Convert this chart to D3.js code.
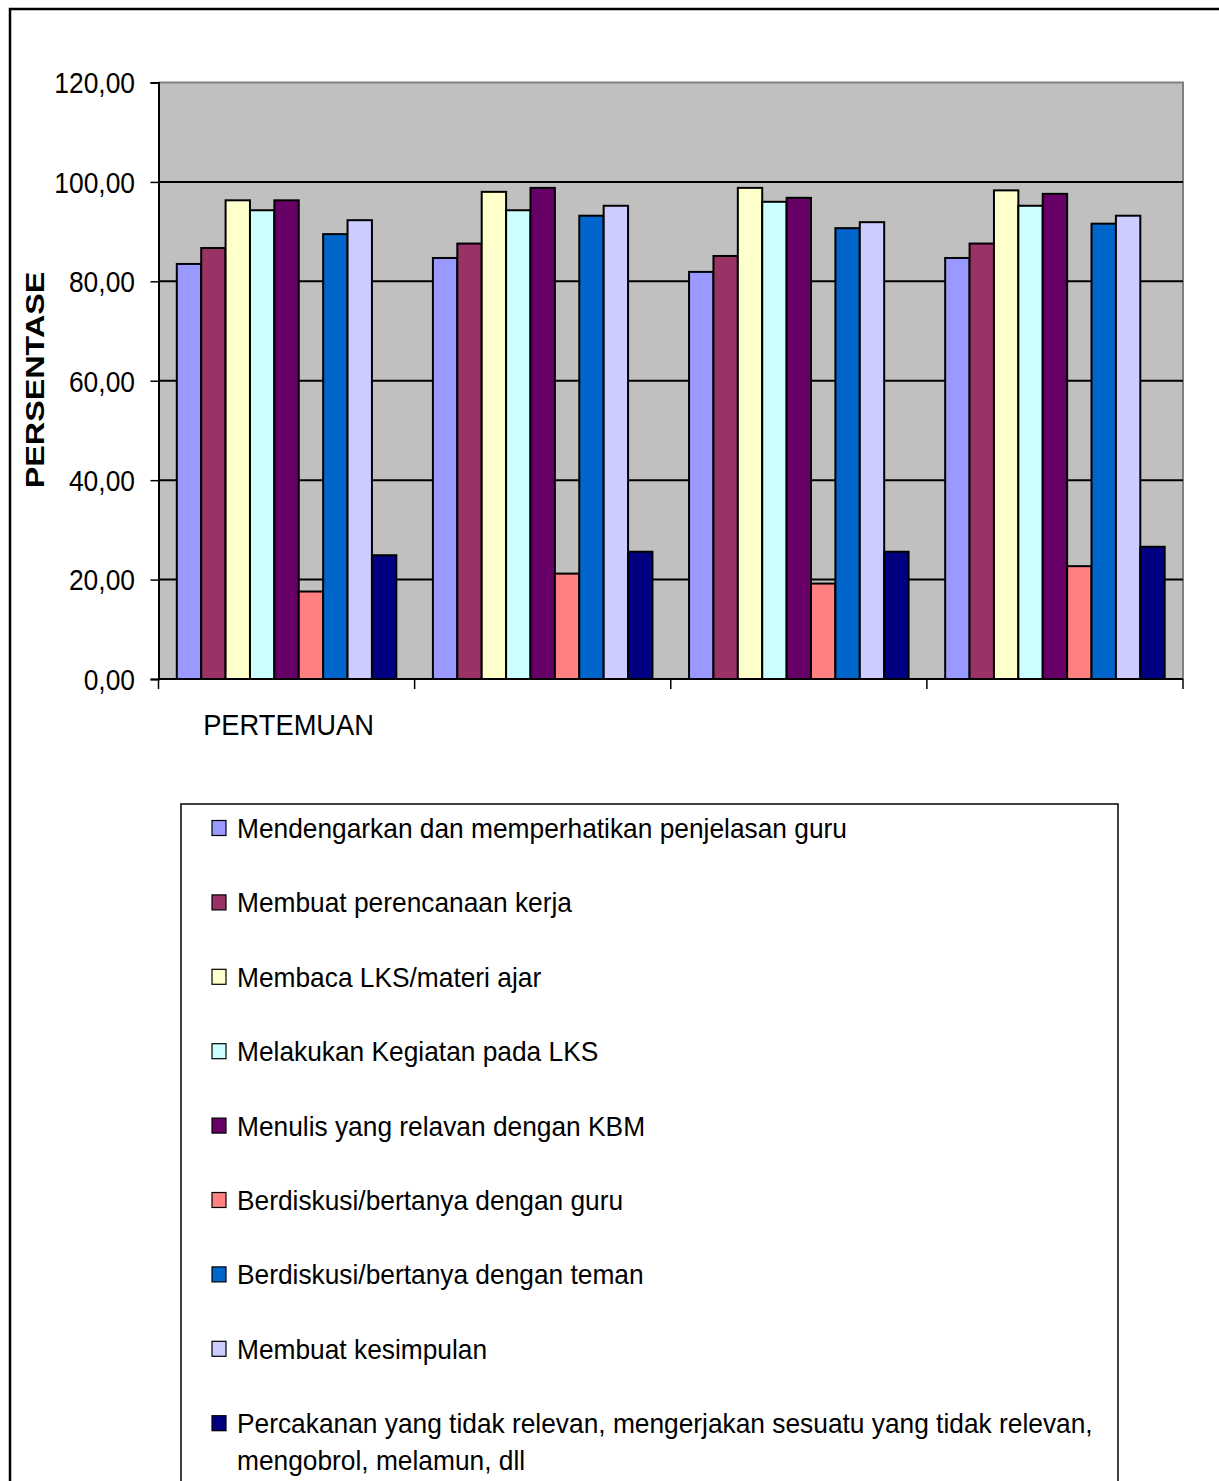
<!DOCTYPE html>
<html>
<head>
<meta charset="utf-8">
<script src="https://cdn.jsdelivr.net/npm/d3@7"></script>
<style>
html,body{margin:0;padding:0;background:#fff;}
svg{display:block;}
text{font-family:"Liberation Sans",Arial,sans-serif;fill:#000;}
</style>
</head>
<body>
<svg id="chart" width="1219" height="1481"></svg>
<script>
// ---- data ----
const meetings = ["1", "2", "3", "4"];
const categoryLabels = ["PERTEMUAN", "", "", ""];
const seriesNames = [
  "Mendengarkan dan memperhatikan penjelasan guru",
  "Membuat perencanaan kerja",
  "Membaca LKS/materi ajar",
  "Melakukan Kegiatan pada LKS",
  "Menulis yang relavan dengan KBM",
  "Berdiskusi/bertanya dengan guru",
  "Berdiskusi/bertanya dengan teman",
  "Membuat kesimpulan",
  "Percakanan yang tidak relevan, mengerjakan sesuatu yang tidak relevan, mengobrol, melamun, dll"
];
const legendLines = [
  ["Mendengarkan dan memperhatikan penjelasan guru"],
  ["Membuat perencanaan kerja"],
  ["Membaca LKS/materi ajar"],
  ["Melakukan Kegiatan pada LKS"],
  ["Menulis yang relavan dengan KBM"],
  ["Berdiskusi/bertanya dengan guru"],
  ["Berdiskusi/bertanya dengan teman"],
  ["Membuat kesimpulan"],
  ["Percakanan yang tidak relevan, mengerjakan sesuatu yang tidak relevan,", "mengobrol, melamun, dll"]
];
const s1 = [83.5, 84.7, 81.9, 84.7];
const s2 = [86.7, 87.6, 85.1, 87.6];
const s3 = [96.3, 98.0, 98.8, 98.3];
const s4 = [94.3, 94.3, 96.0, 95.2];
const s5 = [96.3, 98.8, 96.8, 97.6];
const s6 = [17.6, 21.2, 19.2, 22.7];
const s7 = [89.5, 93.2, 90.7, 91.6];
const s8 = [92.3, 95.2, 91.9, 93.2];
const s9 = [24.9, 25.6, 25.6, 26.6];
const seriesValues = [s1, s2, s3, s4, s5, s6, s7, s8, s9];
const yTicks = [0, 20, 40, 60, 80, 100, 120];
const yTickLabels = ["0,00", "20,00", "40,00", "60,00", "80,00", "100,00", "120,00"];
const yTitle = "PERSENTASE";

// ---- styles ----
const palette = ["#9999FF", "#993366", "#FFFFCC", "#CCFFFF", "#660066", "#FF8080", "#0066CC", "#CCCCFF", "#000080"];

const svg = d3.select("#chart");
const P = {left: 158.5, right: 1183, top: 82.5, bottom: 679};

// outer chart border
svg.append("rect").attr("x", 10).attr("y", 9).attr("width", 1400).attr("height", 1700)
  .attr("fill", "none").attr("stroke", "#000").attr("stroke-width", 2.5);

const x0 = d3.scaleBand().domain(meetings).range([P.left, P.right]).padding(0);
const x1 = d3.scaleBand().domain(d3.range(seriesNames.length)).range([0, x0.bandwidth()])
  .paddingInner(0).paddingOuter(0.75);
const y = d3.scaleLinear().domain([0, 120]).range([P.bottom, P.top]);

// plot area
svg.append("rect").attr("x", P.left).attr("y", P.top).attr("width", P.right - P.left)
  .attr("height", P.bottom - P.top).attr("fill", "#C0C0C0");
svg.append("path").attr("d", `M${P.left},${P.top}H${P.right}V${P.bottom}`)
  .attr("fill", "none").attr("stroke", "#808080").attr("stroke-width", 2);

// gridlines
svg.append("g").selectAll("line").data(yTicks.filter(t => t > 0 && t < 120)).join("line")
  .attr("x1", P.left).attr("x2", P.right).attr("y1", d => y(d)).attr("y2", d => y(d))
  .attr("stroke", "#000").attr("stroke-width", 2);

// bars
const groups = svg.append("g").selectAll("g").data(meetings).join("g")
  .attr("transform", d => `translate(${x0(d)},0)`);
groups.selectAll("rect").data((m, gi) => seriesValues.map((vals, si) => ({si, v: vals[gi]}))).join("rect")
  .attr("x", d => x1(d.si)).attr("width", x1.bandwidth())
  .attr("y", d => y(d.v)).attr("height", d => y(0) - y(d.v))
  .attr("fill", d => palette[d.si]).attr("stroke", "#000").attr("stroke-width", 2);

// y axis
const yAxis = svg.append("g").attr("transform", `translate(${P.left},0)`)
  .call(d3.axisLeft(y).tickValues(yTicks).tickFormat("").tickSizeOuter(0).tickSize(8));
yAxis.select(".domain").attr("stroke", "#000").attr("stroke-width", 2);
yAxis.selectAll(".tick line").attr("stroke", "#000").attr("stroke-width", 1.5);
svg.append("g").selectAll("text").data(yTicks).join("text")
  .attr("transform", d => `translate(135,${y(d)}) scale(0.88,1)`)
  .attr("text-anchor", "end").attr("dy", "0.36em")
  .style("font-size", "30px")
  .text((d, i) => yTickLabels[i]);

// x axis
const boundaries = meetings.map(m => x0(m)).concat([P.right]);
svg.append("line").attr("x1", P.left).attr("x2", P.right).attr("y1", P.bottom).attr("y2", P.bottom)
  .attr("stroke", "#000").attr("stroke-width", 2);
svg.append("g").selectAll("line").data(boundaries).join("line")
  .attr("x1", d => d).attr("x2", d => d).attr("y1", P.bottom).attr("y2", P.bottom + 10)
  .attr("stroke", "#000").attr("stroke-width", 1.5);
svg.append("g").selectAll("text").data(meetings).join("text")
  .attr("transform", (m, i) => `translate(${x0(m) + x0.bandwidth() / 2 + 2},735) scale(0.91,1)`)
  .attr("text-anchor", "middle").style("font-size", "30px")
  .text((m, i) => categoryLabels[i]);

// y title
svg.append("text")
  .attr("transform", "translate(44,380) rotate(-90) scale(1.01,0.8)")
  .attr("text-anchor", "middle").style("font-size", "32px").style("font-weight", "bold")
  .text(yTitle);

// legend
svg.append("rect").attr("x", 181).attr("y", 804).attr("width", 937).attr("height", 800)
  .attr("fill", "#fff").attr("stroke", "#000").attr("stroke-width", 1.5);
const rowY = d3.scaleLinear().domain([0, 1]).range([828, 828 + 74.4]);
const items = svg.append("g").selectAll("g").data(seriesNames).join("g")
  .attr("transform", (d, i) => `translate(0,${rowY(i)})`);
items.append("rect").attr("x", 212).attr("y", -7.5).attr("width", 14).attr("height", 15)
  .attr("fill", (d, i) => palette[i]).attr("stroke", "#000").attr("stroke-width", 1.2);
items.each(function(d, i) {
  d3.select(this).selectAll("text").data(legendLines[i]).join("text")
    .attr("transform", (t, j) => `translate(237,${j * 37}) scale(0.975,1.03)`)
    .attr("dy", "0.36em").style("font-size", "27px")
    .text(t => t);
});
</script>
</body>
</html>
